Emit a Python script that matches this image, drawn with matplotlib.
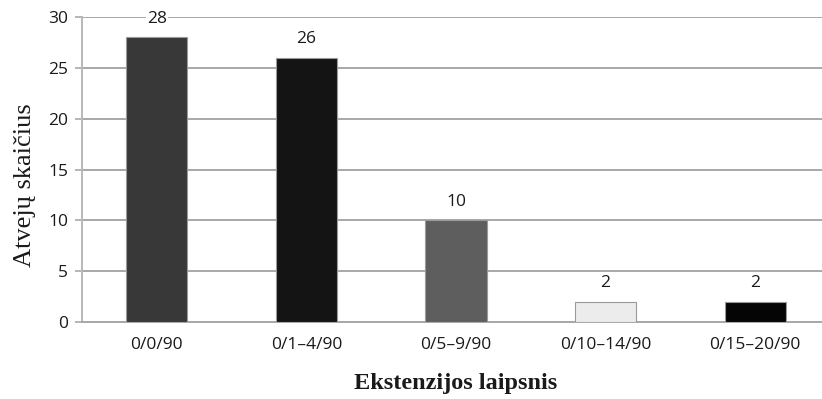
import matplotlib
matplotlib.use("Agg")
import matplotlib.pyplot as plt

categories = ["0/0/90", "0/1\u20134/90", "0/5\u20139/90", "0/10\u201314/90", "0/15\u201320/90"]
values = [28, 26, 10, 2, 2]
bar_colors = ["#383838", "#141414", "#5e5e5e", "#ececec", "#050505"]
y_ticks = [0, 5, 10, 15, 20, 25, 30]

W, H = 822, 399
fig = plt.figure(figsize=(W / 100, H / 100), dpi=100)
ax = fig.add_axes([82 / W, 77 / H, (830 - 82) / W, (322 - 17) / H])

sans = ["Open Sans", "DejaVu Sans"]
serif = ["Liberation Serif", "DejaVu Serif"]
grid_col = "#a8a8a8"
text_col = "#1a1a1a"

x = range(len(categories))
ax.bar(x, values, width=0.41, color=bar_colors, edgecolor="#9a9a9a",
       linewidth=0.8, zorder=3)

ax.set_xlim(-0.5, len(categories) - 0.5)
ax.set_ylim(0, 30)
ax.set_yticks(y_ticks)
ax.set_yticklabels([str(t) for t in y_ticks], fontfamily=sans, fontsize=12.5,
                   color=text_col)
ax.set_xticks(list(x))
ax.set_xticklabels(categories, fontfamily=sans, fontsize=12.5, color=text_col)

ax.yaxis.grid(True, color=grid_col, linewidth=1.4, zorder=0)
ax.set_axisbelow(True)
ax.tick_params(axis="y", length=5, width=1.2, color=grid_col, pad=5)
ax.tick_params(axis="x", length=0, pad=11)
for side in ["top", "right"]:
    ax.spines[side].set_visible(False)
ax.spines["left"].set_color("#b8b8b8")
ax.spines["left"].set_linewidth(1.4)
ax.spines["bottom"].set_color(grid_col)
ax.spines["bottom"].set_linewidth(1.4)

for xi, v in zip(x, values):
    ax.annotate(str(v), (xi, v), xytext=(0, 13.5), textcoords="offset points",
                ha="center", va="center", fontfamily=sans, fontsize=12.5,
                color=text_col, zorder=5,
                bbox=dict(boxstyle="square,pad=0.05", fc="white", ec="none"))

ax.set_xlabel("Ekstenzijos laipsnis", fontfamily=serif, fontsize=17.5,
              fontweight="bold", color=text_col, labelpad=14)
ax.set_ylabel("Atvejų skaičius", fontfamily=serif, fontsize=19,
              color=text_col)
ax.yaxis.set_label_coords(-0.062, 0.45)

fig.savefig("out.png", dpi=100)
